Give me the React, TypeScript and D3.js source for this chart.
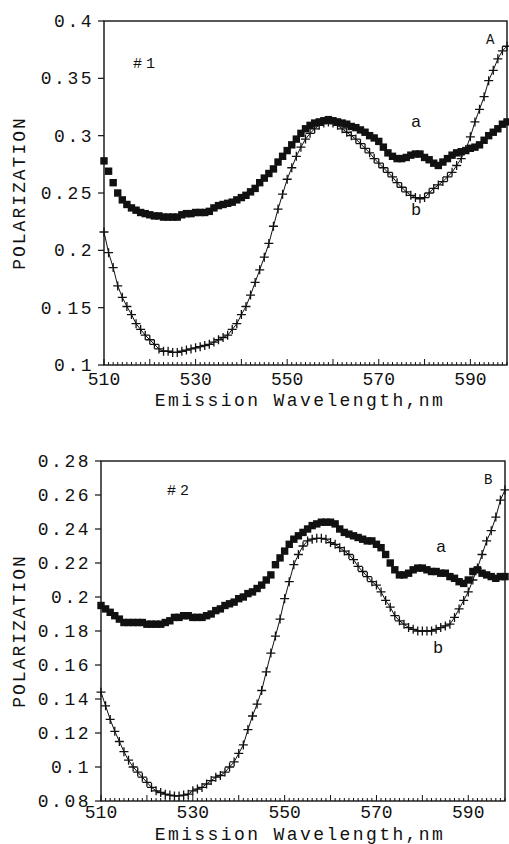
import React from "react";
import * as d3 from "d3";

// Wavelength grid (nm)
const WAVELENGTHS: number[] = d3.range(510, 599, 1);

// Panel #1 (A)
const TOP_A = [
  0.278, 0.269, 0.259, 0.25, 0.244, 0.24, 0.237, 0.235, 0.233, 0.232,
  0.231, 0.23, 0.23, 0.229, 0.229, 0.229, 0.229, 0.231, 0.232, 0.232,
  0.233, 0.233, 0.233, 0.234, 0.237, 0.239, 0.24, 0.241, 0.242, 0.244,
  0.246, 0.248, 0.251, 0.254, 0.259, 0.263, 0.267, 0.271, 0.277, 0.282,
  0.287, 0.292, 0.297, 0.302, 0.306, 0.309, 0.311, 0.312, 0.313, 0.314,
  0.313, 0.312, 0.311, 0.31, 0.308, 0.307, 0.305, 0.303, 0.3, 0.298,
  0.295, 0.29, 0.285, 0.282, 0.28, 0.28, 0.281, 0.283, 0.284, 0.284,
  0.281, 0.279, 0.276, 0.274, 0.277, 0.28, 0.283, 0.285, 0.286, 0.287,
  0.289, 0.29, 0.292, 0.296, 0.3, 0.303, 0.306, 0.31, 0.312,
];
const TOP_B = [
  0.216, 0.198, 0.185, 0.169, 0.159, 0.151, 0.144, 0.136, 0.131, 0.126,
  0.122, 0.118, 0.114, 0.112, 0.112, 0.111, 0.111, 0.112, 0.113, 0.114,
  0.115, 0.116, 0.117, 0.118, 0.12, 0.122, 0.124, 0.126, 0.131, 0.136,
  0.144, 0.151, 0.161, 0.172, 0.183, 0.194, 0.206, 0.221, 0.236, 0.249,
  0.262, 0.272, 0.282, 0.29, 0.297, 0.302, 0.306, 0.309, 0.311, 0.312,
  0.311, 0.309, 0.306, 0.303, 0.3, 0.297, 0.293, 0.289, 0.285, 0.28,
  0.276, 0.272, 0.268, 0.264, 0.259, 0.255, 0.251, 0.248, 0.246, 0.245,
  0.246, 0.25, 0.254, 0.257, 0.26, 0.264, 0.268, 0.274, 0.28, 0.288,
  0.299, 0.312, 0.323, 0.334, 0.348, 0.357, 0.367, 0.374, 0.378,
];

// Panel #2 (B)
const BOT_A = [
  0.195, 0.193, 0.191, 0.189, 0.187, 0.185, 0.185, 0.185, 0.185, 0.185,
  0.184, 0.184, 0.184, 0.184, 0.185, 0.186, 0.188, 0.188, 0.189, 0.189,
  0.188, 0.188, 0.188, 0.189, 0.19, 0.192, 0.193, 0.195, 0.196, 0.197,
  0.199, 0.2, 0.202, 0.203, 0.205, 0.207, 0.21, 0.213, 0.219, 0.223,
  0.227, 0.231, 0.234, 0.236, 0.238, 0.24, 0.242, 0.243, 0.244, 0.244,
  0.244, 0.243, 0.24, 0.238, 0.237, 0.236, 0.235, 0.234, 0.233, 0.233,
  0.231, 0.229, 0.225, 0.22, 0.216, 0.213, 0.213, 0.214, 0.216, 0.217,
  0.217, 0.216, 0.215, 0.215, 0.214, 0.214, 0.212, 0.211, 0.209, 0.208,
  0.21, 0.215, 0.216, 0.214, 0.213, 0.212, 0.211, 0.212, 0.212,
];
const BOT_B = [
  0.144, 0.136, 0.128, 0.121, 0.115, 0.109, 0.104, 0.1, 0.097, 0.094,
  0.091, 0.088, 0.086, 0.085, 0.084, 0.0835, 0.083, 0.083, 0.0835, 0.084,
  0.086, 0.087, 0.088, 0.09, 0.092, 0.094, 0.095, 0.097, 0.1, 0.103,
  0.108, 0.113, 0.122, 0.13, 0.137, 0.145, 0.156, 0.167, 0.177, 0.187,
  0.199, 0.209, 0.219, 0.225, 0.23, 0.233, 0.234, 0.2345, 0.2345, 0.234,
  0.232, 0.231, 0.229, 0.227, 0.225, 0.222, 0.218, 0.215, 0.212, 0.209,
  0.207, 0.203, 0.198, 0.194, 0.189, 0.186, 0.184, 0.182, 0.181, 0.18,
  0.18, 0.18, 0.18, 0.181, 0.182, 0.183, 0.184, 0.188, 0.193, 0.198,
  0.203, 0.21, 0.217, 0.225, 0.233, 0.239, 0.247, 0.257, 0.263,
];

const X_TICKS = [510, 530, 550, 570, 590];
const TOP_Y_TICKS = [0.1, 0.15, 0.2, 0.25, 0.3, 0.35, 0.4];
const TOP_Y_LABELS = ["0.1", "0.15", "0.2", "0.25", "0.3", "0.35", "0.4"];
const BOT_Y_TICKS = [0.08, 0.1, 0.12, 0.14, 0.16, 0.18, 0.2, 0.22, 0.24, 0.26, 0.28];
const BOT_Y_LABELS = ["0.08", "0.1", "0.12", "0.14", "0.16", "0.18", "0.2", "0.22", "0.24", "0.26", "0.28"];

const FONT = "'Liberation Mono', 'DejaVu Sans Mono', monospace";

type PanelProps = {
  box: { left: number; right: number; top: number; bottom: number };
  yDomain: [number, number];
  yTicks: number[];
  yLabels: string[];
  a: number[];
  b: number[];
  tag: string;
  tagPos: [number, number];
  corner: string;
  cornerPos: [number, number];
  aPos: [number, number];
  bPos: [number, number];
  tickDy: number;
  titleDy: number;
};

function Panel(p: PanelProps) {
  const { box } = p;
  const x = d3.scaleLinear().domain([510, 598]).range([box.left, box.right]);
  const y = d3.scaleLinear().domain(p.yDomain).range([box.bottom, box.top]);
  const line = d3
    .line<number>()
    .x((_, i) => x(WAVELENGTHS[i]))
    .y((d) => y(d));
  const minor = d3.range(510, 599, 1);
  const midY = (box.top + box.bottom) / 2;
  const sq = 7.4;
  return (
    <g>
      {/* frame */}
      <rect
        x={box.left}
        y={box.top}
        width={box.right - box.left}
        height={box.bottom - box.top}
        fill="none"
        stroke="#111"
        strokeWidth={1.4}
      />
      {/* x ticks (inside) */}
      {minor.map((w) => (
        <line
          key={"mt" + w}
          x1={x(w)}
          x2={x(w)}
          y1={box.bottom}
          y2={box.bottom - (w % 10 === 0 ? 6 : 3)}
          stroke="#111"
          strokeWidth={1}
        />
      ))}
      {X_TICKS.map((w) => (
        <text
          key={"xl" + w}
          x={x(w)}
          y={box.bottom + p.tickDy}
          textAnchor="middle"
          fontFamily={FONT}
          fontSize={18}
          fill="#111"
        >
          {w}
        </text>
      ))}
      {/* y ticks (outside) */}
      {p.yTicks.map((v, i) => (
        <g key={"yt" + i}>
          <line x1={box.left - 6} x2={box.left} y1={y(v)} y2={y(v)} stroke="#111" strokeWidth={1.2} />
          <text
            x={box.left - 10}
            y={y(v) + 6}
            textAnchor="end"
            fontFamily={FONT}
            fontSize={18}
            letterSpacing={2.5}
            fill="#111"
          >
            {p.yLabels[i]}
          </text>
        </g>
      ))}
      <text
        x={300}
        y={box.bottom + p.titleDy}
        textAnchor="middle"
        fontFamily={FONT}
        fontSize={18}
        letterSpacing={2.4}
        fill="#111"
      >
        Emission Wavelength,nm
      </text>
      <text
        transform={`translate(25,${midY}) rotate(-90)`}
        textAnchor="middle"
        fontFamily={FONT}
        fontSize={18}
        letterSpacing={2}
        fill="#111"
      >
        POLARIZATION
      </text>
      {/* series b: line with + markers */}
      <path d={line(p.b) || ""} fill="none" stroke="#111" strokeWidth={1} />
      {p.b.map((v, i) => {
        const cx = x(WAVELENGTHS[i]);
        const cy = y(v);
        return (
          <path
            key={"pb" + i}
            d={`M${cx - 4.5},${cy}h9M${cx},${cy - 4.5}v9`}
            stroke="#111"
            strokeWidth={1.3}
            fill="none"
          />
        );
      })}
      {/* series a: filled squares */}
      {p.a.map((v, i) => (
        <rect
          key={"pa" + i}
          x={x(WAVELENGTHS[i]) - sq / 2}
          y={y(v) - sq / 2}
          width={sq}
          height={sq}
          fill="#111"
        />
      ))}
      {/* annotations */}
      <text x={p.tagPos[0]} y={p.tagPos[1]} fontFamily={FONT} fontSize={15} letterSpacing={4} fill="#111">
        {p.tag}
      </text>
      <text x={p.cornerPos[0]} y={p.cornerPos[1]} fontFamily={FONT} fontSize={14} fill="#111">
        {p.corner}
      </text>
      <text x={p.aPos[0]} y={p.aPos[1]} fontFamily={FONT} fontSize={17} fill="#111">
        a
      </text>
      <text x={p.bPos[0]} y={p.bPos[1]} fontFamily={FONT} fontSize={17} fill="#111">
        b
      </text>
    </g>
  );
}

export default function App() {
  return (
    <svg
      width={509}
      height={844}
      viewBox="0 0 509 844"
      style={{ position: "absolute", left: 0, top: 0, background: "#fff" }}
    >
      <rect x={0} y={0} width={509} height={844} fill="#fff" />
      <Panel
        box={{ left: 104, right: 507, top: 21, bottom: 365 }}
        yDomain={[0.1, 0.4]}
        yTicks={TOP_Y_TICKS}
        yLabels={TOP_Y_LABELS}
        a={TOP_A}
        b={TOP_B}
        tag="#1"
        tagPos={[133, 68]}
        corner="A"
        cornerPos={[486, 44]}
        aPos={[411, 127]}
        bPos={[411, 215]}
        tickDy={20}
        titleDy={41}
      />
      <Panel
        box={{ left: 101, right: 505, top: 461, bottom: 801 }}
        yDomain={[0.08, 0.28]}
        yTicks={BOT_Y_TICKS}
        yLabels={BOT_Y_LABELS}
        a={BOT_A}
        b={BOT_B}
        tag="#2"
        tagPos={[167, 495]}
        corner="B"
        cornerPos={[484, 484]}
        aPos={[436, 552]}
        bPos={[433, 653]}
        tickDy={17}
        titleDy={39}
      />
    </svg>
  );
}
